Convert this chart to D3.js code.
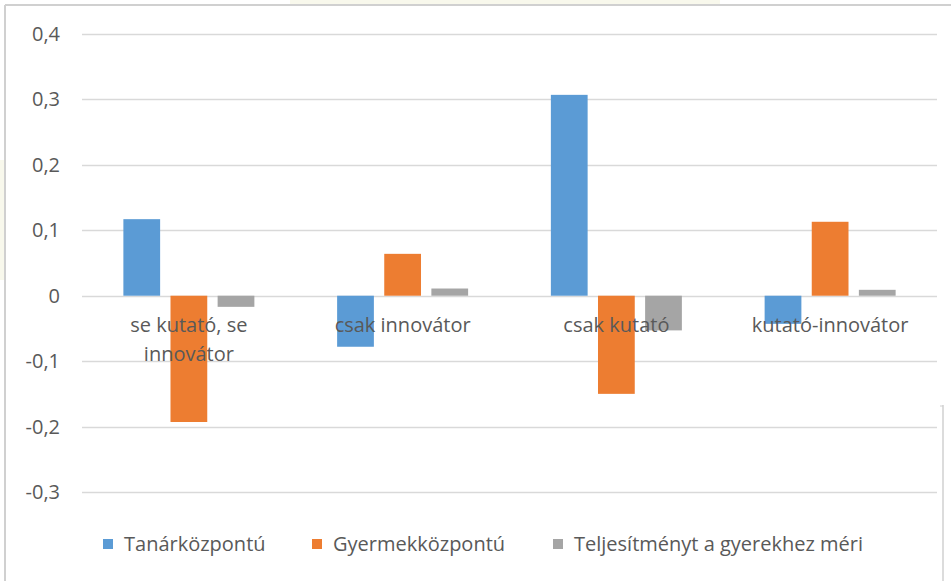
<!DOCTYPE html>
<html>
<head>
<meta charset="utf-8">
<script src="https://cdn.jsdelivr.net/npm/d3@7"></script>
<style>
  body { margin: 0; background: #fff; }
  svg { display: block; font-family: "Open Sans", "Noto Sans", sans-serif; }
</style>
</head>
<body>
<svg id="chart" width="951" height="581"></svg>
<script>
const categories = [["se kutató, se", "innovátor"], ["csak innovátor"], ["csak kutató"], ["kutató-innovátor"]];
const seriesNames = ["Tanárközpontú", "Gyermekközpontú", "Teljesítményt a gyerekhez méri"];
const tanar = [0.117, -0.078, 0.307, -0.043];
const gyermek = [-0.193, 0.064, -0.150, 0.113];
const teljesitmeny = [-0.017, 0.011, -0.053, 0.009];
const yTicks = [0.4, 0.3, 0.2, 0.1, 0, -0.1, -0.2, -0.3];
const colors = ["#5B9BD5", "#ED7D31", "#A5A5A5"];

const series = [tanar, gyermek, teljesitmeny];
const svg = d3.select("#chart");

// faint background tint at the top / border frame
svg.append("rect").attr("x", 290).attr("y", 0).attr("width", 430).attr("height", 5).attr("fill", "#f8f8ec");
svg.append("rect").attr("x", 0).attr("y", 160).attr("width", 5).attr("height", 120).attr("fill", "#f8f8ec");
svg.append("line").attr("x1", 5).attr("x2", 951).attr("y1", 5).attr("y2", 5).attr("stroke", "#d0d0d0").attr("stroke-width", 2);
svg.append("line").attr("x1", 5).attr("x2", 5).attr("y1", 5).attr("y2", 581).attr("stroke", "#d0d0d0").attr("stroke-width", 2);
svg.append("line").attr("x1", 943).attr("x2", 943).attr("y1", 405).attr("y2", 581).attr("stroke", "#d0d0d0").attr("stroke-width", 1.5);
svg.append("line").attr("x1", 940).attr("x2", 943).attr("y1", 406).attr("y2", 406).attr("stroke", "#d0d0d0").attr("stroke-width", 1);

const left = 82, right = 937;
const y = d3.scaleLinear().domain([-0.3, 0.4]).range([492, 34]);
const x = d3.scaleBand().domain(d3.range(categories.length)).range([left, right]);
const inner = d3.scaleBand().domain(d3.range(series.length)).range([0, 131]).paddingInner(0.22);

// gridlines
svg.append("g").selectAll("line").data(yTicks).join("line")
  .attr("x1", left).attr("x2", right)
  .attr("y1", d => Math.round(y(d)) + 0.5).attr("y2", d => Math.round(y(d)) + 0.5)
  .attr("stroke", "#d9d9d9").attr("stroke-width", 1.5);

// y tick labels
const fmt = d => d3.format(".1f")(d).replace(".", ",").replace("−", "-");
svg.append("g").selectAll("text").data(yTicks).join("text")
  .attr("x", 60).attr("y", d => y(d)).attr("dy", "0.35em")
  .attr("text-anchor", "end").attr("font-size", 20).attr("fill", "#595959")
  .text(d => d === 0 ? "0" : fmt(d));

// bars
series.forEach((vals, s) => {
  svg.append("g").selectAll("rect").data(vals).join("rect")
    .attr("x", (d, i) => x(i) + x.bandwidth() / 2 - 65.5 + inner(s))
    .attr("width", inner.bandwidth())
    .attr("y", d => y(Math.max(0, d)))
    .attr("height", d => Math.abs(y(d) - y(0)))
    .attr("fill", colors[s]);
});

// category labels
const catG = svg.append("g");
categories.forEach((lines, i) => {
  const t = catG.append("text").attr("text-anchor", "middle").attr("font-size", 20).attr("fill", "#595959");
  lines.forEach((ln, j) => {
    t.append("tspan").attr("x", x(i) + x.bandwidth() / 2).attr("y", 332 + j * 29).text(ln);
  });
});

// legend
const legendX = [103, 312, 553];
const leg = svg.append("g");
seriesNames.forEach((name, i) => {
  leg.append("rect").attr("x", legendX[i]).attr("y", 539).attr("width", 10).attr("height", 10).attr("fill", colors[i]);
  leg.append("text").attr("x", legendX[i] + 21).attr("y", 544).attr("dy", "0.35em")
    .attr("font-size", 20).attr("fill", "#595959").text(name);
});
</script>
</body>
</html>
